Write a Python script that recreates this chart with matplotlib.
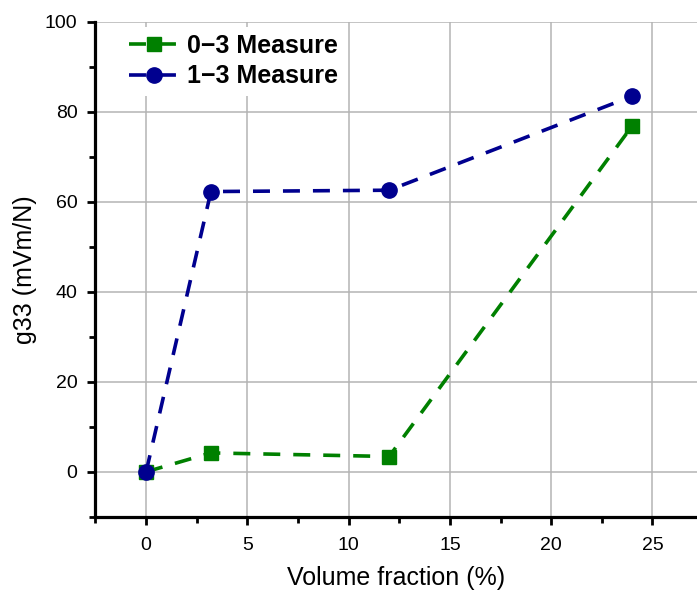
import matplotlib.pyplot as plt
from matplotlib.ticker import MultipleLocator

plt.rcParams['font.family'] = ['Liberation Sans', 'DejaVu Sans']

# dados
fracao = [0, 3.2, 12, 24]
g33_03 = [0, 4.2, 3.4, 76.9]
g33_13 = [0, 62.3, 62.6, 83.5]

fig = plt.figure(figsize=(6.97, 5.94), dpi=100)
ax = fig.add_axes([0.137, 0.130, 0.863, 0.833])

verde = '#008000'
azul = '#00008f'
tracejado = (0, (4.7, 3.6))

ax.plot(fracao, g33_03, linestyle=tracejado, color=verde, linewidth=2.6,
        marker='s', markersize=10, label='0\u22123 Measure', zorder=3)
ax.plot(fracao, g33_13, linestyle=tracejado, color=azul, linewidth=2.6,
        marker='o', markersize=11, label='1\u22123 Measure', zorder=3)

ax.set_xlim(-2.5, 27.2)
ax.set_ylim(-10, 100)
ax.xaxis.set_major_locator(MultipleLocator(5))
ax.xaxis.set_minor_locator(MultipleLocator(2.5))
ax.yaxis.set_major_locator(MultipleLocator(20))
ax.yaxis.set_minor_locator(MultipleLocator(10))

ax.grid(True, which='major', color='#b4b4b4', linewidth=1.1)
ax.set_axisbelow(True)

for lado in ['top', 'right']:
    ax.spines[lado].set_visible(False)
for lado in ['left', 'bottom']:
    ax.spines[lado].set_linewidth(2.3)

ax.tick_params(which='major', length=6, width=2, labelsize=14)
ax.tick_params(axis='x', which='major', pad=8.5)
ax.tick_params(axis='y', which='major', pad=7)
ax.tick_params(which='minor', length=4, width=2)

ax.set_xlabel('Volume fraction (%)', fontsize=18, labelpad=9)
ax.set_ylabel('g33 (mVm/N)', fontsize=18, labelpad=5.5)

leg = ax.legend(loc='upper left', bbox_to_anchor=(0.023, 1.016),
                prop={'weight': 'bold', 'size': 18}, handlelength=2.0,
                handletextpad=0.3, labelspacing=0.25, frameon=True,
                fancybox=False, borderpad=0.3)
leg.get_frame().set_edgecolor('none')
leg.get_frame().set_facecolor('white')
leg.get_frame().set_alpha(1)

plt.savefig('out.png', dpi=100)
plt.close()
